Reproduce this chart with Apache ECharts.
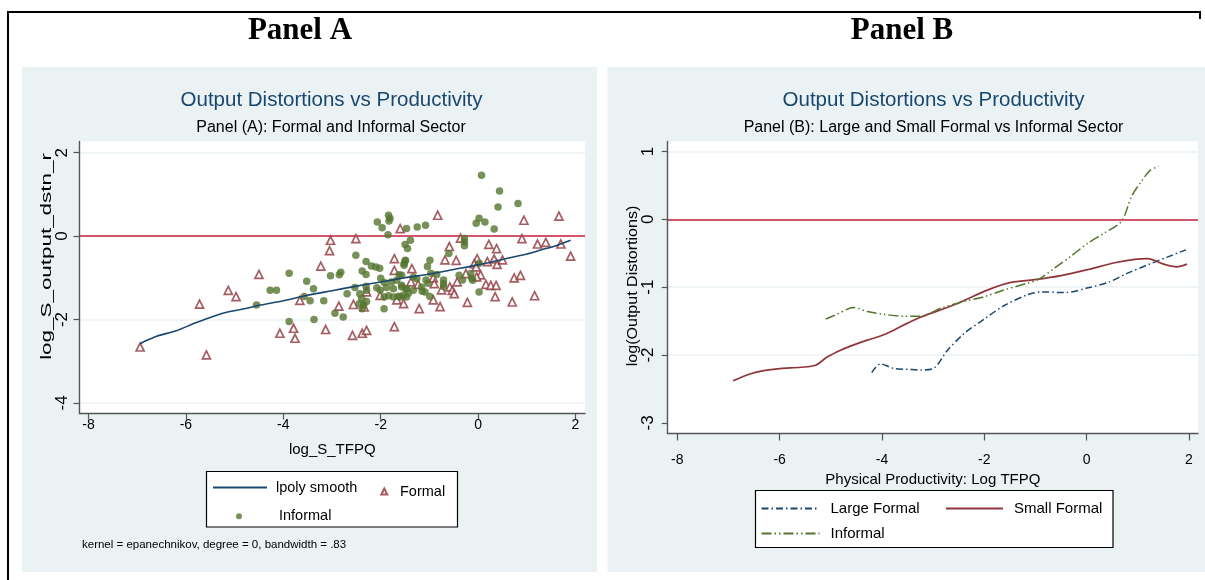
<!DOCTYPE html>
<html>
<head>
<meta charset="utf-8">
<script src="https://cdn.jsdelivr.net/npm/echarts@6/dist/echarts.min.js"></script>
<style>
  html, body { margin: 0; padding: 0; background: #fff; }
  #chart { width: 1205px; height: 580px; }
</style>
</head>
<body>
<div id="chart"></div>
<script>
// ---------- Panel A: formal vs informal firms ----------
const ticksA_x = [-8, -6, -4, -2, 0, 2];
const ticksA_y = [-4, -2, 0, 2];

// kernel-weighted local polynomial smooth (epanechnikov, degree 0)
const lpolySmooth = [
  [-6.94, -2.58], [-6.8, -2.5], [-6.6, -2.4], [-6.2, -2.27], [-5.8, -2.08], [-5.4, -1.91],
  [-5.1, -1.81], [-4.7, -1.72], [-4.5, -1.66], [-4.0, -1.55], [-3.5, -1.42], [-3.0, -1.31],
  [-2.5, -1.2], [-2.0, -1.1], [-1.5, -1.0], [-1.0, -0.91], [-0.5, -0.8], [0.0, -0.69],
  [0.5, -0.56], [1.0, -0.43], [1.3, -0.33], [1.6, -0.23], [1.9, -0.1]
];

const formalFirms = [
  [-6.94, -2.66], [-5.13, -1.30], [-4.97, -1.45], [-5.72, -1.63], [-5.58, -2.85],
  [-4.50, -0.92], [-3.66, -1.54], [-4.07, -2.33], [-3.79, -2.21], [-3.76, -2.45], [-3.13, -2.24],
  [-3.23, -0.72], [-3.05, -0.35], [-3.03, -0.10], [-2.86, -1.68], [-2.51, -0.06], [-2.58, -2.38],
  [-2.56, -1.64], [-2.38, -2.33], [-2.29, -2.26], [-2.34, -1.70], [-2.29, -1.34], [-2.01, -1.42],
  [-1.72, -0.54], [-1.72, -0.82], [-1.72, -2.17], [-1.60, 0.18], [-1.67, -1.53], [-1.53, -1.62],
  [-0.83, 0.50], [0.94, 0.38], [1.66, 0.48], [0.90, -0.06], [-0.36, -0.05], [-0.59, -0.25],
  [0.22, -0.20], [0.38, -0.30], [1.22, -0.19], [1.39, -0.15], [1.70, -0.19], [1.90, -0.48],
  [-0.68, -0.57], [-0.45, -0.58], [-0.02, -0.54], [0.19, -0.61], [0.33, -0.55], [0.39, -0.68],
  [0.50, -0.57], [-1.36, -0.78], [-0.08, -0.66], [-0.04, -0.74], [-0.25, -0.90], [0.05, -0.93],
  [0.74, -1.00], [0.87, -0.94], [0.16, -1.16], [0.26, -1.18], [0.37, -1.18], [-1.38, -1.10],
  [-1.23, -1.16], [-0.92, -1.00], [-0.90, -1.14], [-0.58, -1.22], [-0.53, -1.30], [-0.49, -1.38],
  [-0.75, -1.29], [-0.92, -1.53], [-0.78, -1.69], [-1.21, -1.74], [-0.22, -1.59], [-0.03, -0.98],
  [0.35, -1.45], [0.70, -1.58], [1.16, -1.43], [-0.43, -1.10]
];

const informalFirms = [
  [-3.88, -0.89], [-4.27, -1.30], [-4.14, -1.30], [-4.55, -1.65], [-3.52, -1.08], [-3.38, -1.26],
  [-3.57, -1.45], [-3.45, -1.55], [-3.88, -2.05], [-3.37, -2.00], [-3.17, -1.55], [-3.03, -0.95],
  [-2.85, -0.93], [-2.82, -0.87], [-2.94, -1.85], [-2.77, -1.94], [-2.69, -1.38], [-2.53, -1.23],
  [-2.51, -0.46], [-2.30, -0.61], [-2.38, -0.84], [-2.30, -0.92], [-2.19, -0.72], [-2.10, -0.74],
  [-2.02, -0.77], [-2.30, -1.20], [-2.29, -1.30], [-2.43, -1.38], [-2.39, -1.50], [-2.29, -1.57],
  [-2.44, -1.62], [-2.38, -1.74], [-2.35, -1.66], [-2.07, 0.34], [-1.97, 0.20], [-1.84, 0.50],
  [-1.81, 0.43], [-1.83, 0.36], [-1.85, 0.03], [-1.47, 0.18], [-2.00, -1.01], [-2.08, -1.24],
  [-2.01, -1.30], [-1.93, -1.11], [-1.88, -1.23], [-1.93, -1.46], [-1.84, -1.43], [-1.74, -1.26],
  [-1.78, -1.10], [-1.62, -0.93], [-1.67, -1.06], [-1.57, -1.22], [-1.48, -1.26], [-1.74, -1.46],
  [-1.64, -1.44], [-1.54, -1.42], [-1.93, -1.74], [-1.50, -0.20], [-1.45, -0.30], [-1.52, -0.66],
  [-1.49, -0.58],
  [0.07, 1.46], [0.44, 1.08], [0.41, 0.70], [0.82, 0.78], [0.02, 0.43], [-0.04, 0.31],
  [0.14, 0.34], [0.33, 0.17], [-1.25, 0.22], [-1.08, 0.26], [-1.39, -0.10], [-0.28, -0.06],
  [-0.28, -0.14], [-0.28, -0.23], [-0.60, -0.42], [-1.50, -0.60], [-1.52, -0.70], [-0.99, -0.58],
  [-1.04, -0.73], [-0.97, -0.89], [-0.85, -0.92], [-1.33, -0.98], [-1.57, -0.94], [-1.26, -1.02],
  [-1.07, -1.05], [-1.03, -1.13], [-0.71, -1.05], [-0.71, -1.14], [-0.71, -1.21], [-0.39, -0.94],
  [-0.32, -1.05], [-0.15, -0.90], [-0.13, -1.01], [-0.11, -1.06], [0.02, -0.65], [0.02, -1.34],
  [-1.57, -1.18], [-1.47, -1.26], [-1.33, -1.30], [-1.43, -1.37], [-1.16, -1.22], [-1.15, -1.32],
  [-1.09, -1.34], [-0.99, -1.45], [-1.47, -1.46], [-1.60, -1.46]
];

// ---------- Panel B: large formal, small formal and informal smooths ----------
const ticksB_x = [-8, -6, -4, -2, 0, 2];
const ticksB_y = [-3, -2, -1, 0, 1];

const largeFormal = [
  [-4.20, -2.26], [-4.03, -2.13], [-3.76, -2.20], [-3.50, -2.21], [-3.24, -2.22], [-2.98, -2.19],
  [-2.72, -1.93], [-2.39, -1.68], [-2.00, -1.47], [-1.61, -1.27], [-1.15, -1.11], [-0.89, -1.07],
  [-0.43, -1.08], [0.03, -1.01], [0.42, -0.93], [0.81, -0.79], [1.20, -0.67], [1.60, -0.55],
  [1.94, -0.45]
];

const smallFormal = [
  [-6.91, -2.38], [-6.58, -2.28], [-6.31, -2.23], [-5.99, -2.20], [-5.59, -2.18], [-5.30, -2.15],
  [-5.07, -2.03], [-4.81, -1.93], [-4.55, -1.85], [-4.29, -1.78], [-4.03, -1.72], [-3.76, -1.63],
  [-3.50, -1.53], [-3.24, -1.44], [-2.59, -1.26], [-1.93, -1.04], [-1.48, -0.93], [-1.02, -0.89],
  [-0.50, -0.83], [0.03, -0.74], [0.55, -0.64], [0.94, -0.59], [1.20, -0.58], [1.46, -0.65],
  [1.76, -0.70], [1.96, -0.66]
];

const informalSector = [
  [-5.10, -1.47], [-4.91, -1.41], [-4.55, -1.30], [-4.29, -1.36], [-3.96, -1.40], [-3.57, -1.43],
  [-3.24, -1.43], [-2.85, -1.31], [-2.39, -1.21], [-2.00, -1.14], [-1.61, -1.04], [-1.15, -0.94],
  [-0.95, -0.89], [-0.63, -0.72], [-0.30, -0.54], [0.03, -0.35], [0.35, -0.20], [0.68, -0.03],
  [0.88, 0.34], [1.07, 0.56], [1.24, 0.72], [1.41, 0.78]
];

// ---------- styling ----------
const SANS = '"Liberation Sans", Arial, sans-serif';
const SERIF = '"Liberation Serif", "Times New Roman", serif';
const BG = '#eaf2f3';
const NAVY = '#1a476f';
const MAROON = '#90353b';
const GREEN = '#55752f';
const ZERO = '#c41e3a';
const AXIS = '#555555';

function gridLines(values) {
  const d = values.map(v => ({ yAxis: v, lineStyle: { color: BG, width: 1.6, type: 'solid' } }));
  d.push({ yAxis: 0, lineStyle: { color: ZERO, width: 1.6, type: 'solid' } });
  return {
    silent: true, symbol: ['none', 'none'], z: 1, animation: false,
    label: { show: false }, emphasis: { disabled: true }, data: d
  };
}

function xAxisOf(grid, min, max, ticks, name, labelMargin, nameGap, tickLen) {
  return {
    gridIndex: grid, type: 'value', min: min, max: max, z: 3,
    name: name, nameLocation: 'middle', nameGap: nameGap,
    nameTextStyle: { fontFamily: SANS, fontSize: 15, color: '#000' },
    axisLine: { show: true, onZero: false, lineStyle: { color: AXIS, width: 1.4 } },
    axisTick: { show: true, length: tickLen, customValues: ticks, lineStyle: { color: AXIS, width: 1.2 } },
    axisLabel: { customValues: ticks, margin: labelMargin, fontFamily: SANS, fontSize: 14, color: '#000' },
    splitLine: { show: false }
  };
}

function yAxisOf(grid, min, max, ticks, labelMargin) {
  return {
    gridIndex: grid, type: 'value', min: min, max: max, z: 3,
    axisLine: { show: true, onZero: false, lineStyle: { color: AXIS, width: 1.4 } },
    axisTick: { show: true, length: 6, customValues: ticks, lineStyle: { color: AXIS, width: 1.2 } },
    axisLabel: { customValues: ticks, rotate: 90, margin: labelMargin, fontFamily: SANS, fontSize: 17, color: '#000' },
    splitLine: { show: false }
  };
}

// one legend block per key so each key sits where the layout needs it
function legendOf(name, left, top, w, h, size, pad, extra) {
  return Object.assign({
    data: [name], left: left, top: top, padding: 0, itemWidth: w, itemHeight: h,
    selectedMode: false, orient: 'horizontal',
    textStyle: { fontFamily: SANS, fontSize: size, color: '#000', padding: [0, 0, 0, pad] }
  }, extra || {});
}
// line keys: show the stroke only, no marker
const LINE_KEY = { itemStyle: { opacity: 0, borderWidth: 0 } };

function titleAt(text, cx, cy, style, align) {
  return {
    text: text, left: cx, top: cy, padding: 0,
    textAlign: align || 'center', textVerticalAlign: 'middle',
    textStyle: style
  };
}

const chart = echarts.init(document.getElementById('chart'), null, { renderer: 'canvas' });

const option = {
  animation: false,
  backgroundColor: '#ffffff',
  title: [
    titleAt('Panel A', 300, 31, { fontFamily: SERIF, fontWeight: 'bold', fontSize: 31, color: '#000' }),
    titleAt('Panel B', 902, 31, { fontFamily: SERIF, fontWeight: 'bold', fontSize: 31, color: '#000' }),
    titleAt('Output Distortions vs Productivity', 331.5, 100.5, { fontFamily: SANS, fontWeight: 'normal', fontSize: 20.5, color: NAVY }),
    titleAt('Panel (A): Formal and Informal Sector', 331, 128, { fontFamily: SANS, fontWeight: 'normal', fontSize: 16, color: '#000' }),
    titleAt('Output Distortions vs Productivity', 933.5, 100.5, { fontFamily: SANS, fontWeight: 'normal', fontSize: 20.5, color: NAVY }),
    titleAt('Panel (B): Large and Small Formal vs Informal Sector', 933.5, 128, { fontFamily: SANS, fontWeight: 'normal', fontSize: 16, color: '#000' }),
    titleAt('kernel = epanechnikov, degree = 0, bandwidth = .83', 82, 545, { fontFamily: SANS, fontWeight: 'normal', fontSize: 11.5, color: '#000' }, 'left')
  ],
  graphic: [
    // outer frame
    { type: 'line', z: 1, shape: { x1: 7, y1: 12, x2: 1200, y2: 12 }, style: { stroke: '#000', lineWidth: 2 } },
    { type: 'line', z: 1, shape: { x1: 8, y1: 11, x2: 8, y2: 580 }, style: { stroke: '#000', lineWidth: 2 } },
    { type: 'line', z: 1, shape: { x1: 1200, y1: 11, x2: 1200, y2: 19 }, style: { stroke: '#000', lineWidth: 2 } },
    // graph regions
    { type: 'rect', z: -2, shape: { x: 22, y: 67, width: 575, height: 505 }, style: { fill: BG } },
    { type: 'rect', z: -2, shape: { x: 607.5, y: 67, width: 597.5, height: 505 }, style: { fill: BG } },
    // plot regions
    { type: 'rect', z: -1, shape: { x: 79.5, y: 141.5, width: 505.5, height: 272 }, style: { fill: '#fff' } },
    { type: 'rect', z: -1, shape: { x: 667.7, y: 141.5, width: 530.3, height: 292 }, style: { fill: '#fff' } },
    // legend frames
    { type: 'rect', z: 3, shape: { x: 206.5, y: 471.5, width: 251, height: 55.5 }, style: { fill: '#fff', stroke: '#000', lineWidth: 1.2 } },
    { type: 'rect', z: 3, shape: { x: 755.5, y: 490.5, width: 357.5, height: 57 }, style: { fill: '#fff', stroke: '#000', lineWidth: 1.2 } },
    // vertical axis titles
    {
      type: 'text', z: 5, x: 46.7, y: 256.5, rotation: Math.PI / 2, scaleX: 1.6,
      style: { text: 'log_S_output_dstn_r', font: '14px ' + SANS, fill: '#000', align: 'center', verticalAlign: 'middle', textAlign: 'center', textVerticalAlign: 'middle' }
    },
    {
      type: 'text', z: 5, x: 633.3, y: 286, rotation: Math.PI / 2, scaleX: 1.07,
      style: { text: 'log(Output Distortions)', font: '15px ' + SANS, fill: '#000', align: 'center', verticalAlign: 'middle', textAlign: 'center', textVerticalAlign: 'middle' }
    }
  ],
  legend: [
    legendOf('lpoly smooth', 212, 480, 54, 14, 14.5, 4, LINE_KEY),
    legendOf('Formal', 380.3, 484, 6, 6, 14.5, 7.7),
    legendOf('Informal', 236, 508.7, 6, 6, 14.5, 32),
    legendOf('Large Formal', 760.5, 501, 58, 14, 15, 6, LINE_KEY),
    legendOf('Small Formal', 945, 501, 57, 14, 15, 6, LINE_KEY),
    legendOf('Informal sector', 760.5, 526, 58, 14, 15, 6, Object.assign({ formatter: () => 'Informal' }, LINE_KEY))
  ],
  grid: [
    { left: 79.5, top: 141.5, width: 505.5, height: 272, show: false },
    { left: 667.7, top: 141.5, width: 530.3, height: 292, show: false }
  ],
  xAxis: [
    xAxisOf(0, -8.185, 2.195, ticksA_x, 'log_S_TFPQ', 5, 29, 6),
    xAxisOf(1, -8.188, 2.176, ticksB_x, 'Physical Productivity: Log TFPQ', 20, 30, 7)
  ],
  yAxis: [
    yAxisOf(0, -4.254, 2.268, ticksA_y, 9),
    yAxisOf(1, -3.156, 1.146, ticksB_y, 11)
  ],
  series: [
    {
      name: 'lpoly smooth', type: 'line', xAxisIndex: 0, yAxisIndex: 0,
      data: lpolySmooth, symbol: 'none', smooth: 0.3,
      lineStyle: { color: NAVY, width: 1.6 }, itemStyle: { color: NAVY },
      markLine: gridLines([2, -2, -4])
    },
    {
      name: 'Formal', type: 'scatter', xAxisIndex: 0, yAxisIndex: 0,
      data: formalFirms, symbol: 'triangle', symbolSize: 8,
      itemStyle: { color: '#ffffff', borderColor: MAROON, borderWidth: 1.7 }
    },
    {
      name: 'Informal', type: 'scatter', xAxisIndex: 0, yAxisIndex: 0,
      data: informalFirms, symbol: 'circle', symbolSize: 7.5,
      itemStyle: { color: GREEN }
    },
    {
      name: 'Large Formal', type: 'line', xAxisIndex: 1, yAxisIndex: 1,
      data: largeFormal, symbol: 'none', smooth: 0.3,
      lineStyle: { color: NAVY, width: 1.5, type: [7, 3, 1.5, 3] }, itemStyle: { color: NAVY }
    },
    {
      name: 'Small Formal', type: 'line', xAxisIndex: 1, yAxisIndex: 1,
      data: smallFormal, symbol: 'none', smooth: 0.3,
      lineStyle: { color: MAROON, width: 1.7 }, itemStyle: { color: MAROON },
      markLine: gridLines([1, -1, -2])
    },
    {
      name: 'Informal sector', type: 'line', xAxisIndex: 1, yAxisIndex: 1,
      data: informalSector, symbol: 'none', smooth: 0.3,
      lineStyle: { color: GREEN, width: 1.5, type: [10, 3, 1.5, 3, 1.5, 3] }, itemStyle: { color: GREEN }
    }
  ]
};

chart.setOption(option);
</script>
</body>
</html>
